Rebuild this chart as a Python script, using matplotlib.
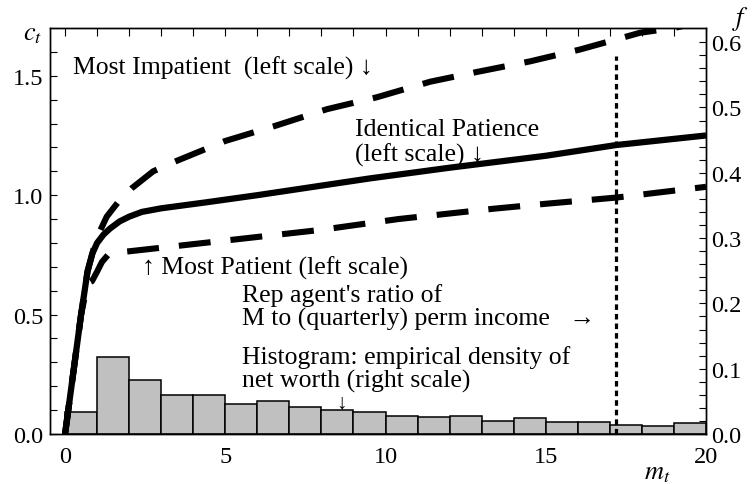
import matplotlib
matplotlib.use('Agg')
import matplotlib.pyplot as plt
import numpy as np

plt.rcParams['font.family'] = ['Liberation Serif', 'DejaVu Serif']
plt.rcParams['mathtext.fontset'] = 'stix'
plt.rcParams['lines.scale_dashes'] = False

# consumption functions (left scale)
m_same = [0, 0.3, 0.5, 0.7, 0.85, 1.0, 1.2, 1.4, 1.7, 2.0, 2.4, 3.0, 4.4, 6.0, 9.5, 12, 15, 17.2, 20]
c_same = [0, 0.30, 0.50, 0.68, 0.755, 0.80, 0.835, 0.86, 0.89, 0.91, 0.93, 0.945, 0.97, 1.0, 1.07, 1.115, 1.165, 1.21, 1.25]

m_impatient = [0, 0.3, 0.5, 0.7, 0.9, 1.09, 1.3, 1.65, 2.09, 2.75, 3.49, 5.0, 6.55, 8.17, 9.73,
               11.39, 12.89, 14.5, 16.07, 17.94, 19.0, 20]
c_impatient = [0, 0.30, 0.50, 0.68, 0.78, 0.85, 0.91, 0.97, 1.03, 1.10, 1.144, 1.227, 1.29, 1.36, 1.41,
               1.475, 1.517, 1.56, 1.61, 1.68, 1.70, 1.73]

m_patient = [0, 0.3, 0.5, 0.7, 0.84, 1.0, 1.15, 1.34, 1.6, 2.0, 3.0, 5.0, 8.0, 10.4, 13.35, 15.0, 17.2, 20]
c_patient = [0, 0.30, 0.50, 0.63, 0.64, 0.68, 0.72, 0.75, 0.76, 0.765, 0.78, 0.81, 0.855, 0.90, 0.943, 0.964, 0.99, 1.035]

# histogram of net worth (right scale), unit bins 0..20
bin_edges = np.arange(0, 21, 1)
density = [0.033, 0.1175, 0.082, 0.060, 0.060, 0.046, 0.050, 0.041, 0.037, 0.033,
           0.027, 0.0255, 0.028, 0.0195, 0.024, 0.019, 0.019, 0.014, 0.0127, 0.0164]

m_rep = 17.2
c_rep_top = 1.584

fig = plt.figure(figsize=(7.53, 4.85), dpi=100)
ax = fig.add_axes([0.0664, 0.1031, 0.8712, 0.8371])
ax2 = ax.twinx()

ax2.bar(bin_edges[:-1], density, width=1.0, align='edge', color='#c0c0c0',
        edgecolor='black', linewidth=1.1)
ax2.set_ylim(0, 0.6217)

ax.set_zorder(ax2.get_zorder() + 1)
ax.patch.set_visible(False)

ax.plot(m_same, c_same, color='black', lw=4.5, solid_capstyle='butt')
ax.plot(m_impatient, c_impatient, color='black', lw=4.4, dashes=(23, 14.4), dash_capstyle='butt')
ax.plot(m_patient, c_patient, color='black', lw=4.4, dashes=(23, 14.4), dash_capstyle='butt')
ax.plot([m_rep, m_rep], [0, c_rep_top], color='black', lw=2.3, dashes=(4, 2.9), dash_capstyle='butt')

ax.set_xlim(-0.47, 20)
ax.set_ylim(0, 1.7)

ax.set_xticks([0, 5, 10, 15, 20])
ax.set_xticks(np.arange(0, 21, 1), minor=True)
ax.set_yticks([0, 0.5, 1.0, 1.5])
ax.set_yticks(np.arange(0, 1.71, 0.1), minor=True)
ax.yaxis.set_major_formatter(matplotlib.ticker.FormatStrFormatter('%.1f'))
ax.tick_params(axis='both', which='both', direction='in', labelsize=17.5)
ax.tick_params(axis='y', which='both', length=5, width=0.8, pad=5, right=False)
ax.tick_params(axis='x', which='both', top=True, bottom=False, length=6, width=0.8, pad=9)

ax2.set_yticks(np.arange(0, 0.61, 0.1))
ax2.set_yticks(np.arange(0, 0.62, 0.02), minor=True)
ax2.yaxis.set_major_formatter(matplotlib.ticker.FormatStrFormatter('%.1f'))
ax2.tick_params(axis='y', which='both', direction='in', length=5, width=0.8, pad=4, labelsize=17.5)

for sp in ax.spines.values():
    sp.set_linewidth(1.0)
for sp in ax2.spines.values():
    sp.set_linewidth(1.0)

fig.text(33 / 753, 1 - 35 / 485, '$c_t$', fontsize=19, ha='center', va='center')
fig.text(741 / 753, 1 - 19 / 485, '$f$', fontsize=19, ha='center', va='center')
fig.text(657 / 753, 1 - 474 / 485, '$m_t$', fontsize=19, ha='center', va='center')

fs = 18.5
ax.text(0.25, 1.537, 'Most Impatient  (left scale) \u2193', fontsize=fs, ha='left', va='center')
ax.text(9.05, 1.223, 'Identical Patience\n(left scale) \u2193', fontsize=fs, ha='left', va='center',
        linespacing=1.1)
ax.text(2.4, 0.70, '\u2191 Most Patient (left scale)', fontsize=fs, ha='left', va='center')
ax.text(5.52, 0.532, "Rep agent's ratio of\nM to (quarterly) perm income   \u2192", fontsize=fs,
        ha='left', va='center', linespacing=1.05)
ax.text(5.52, 0.274, 'Histogram: empirical density of\nnet worth (right scale)', fontsize=fs,
        ha='left', va='center', linespacing=1.05)
ax.text(8.64, 0.128, '\u2193', fontsize=15, ha='center', va='center')

fig.savefig('out.png', dpi=100)
